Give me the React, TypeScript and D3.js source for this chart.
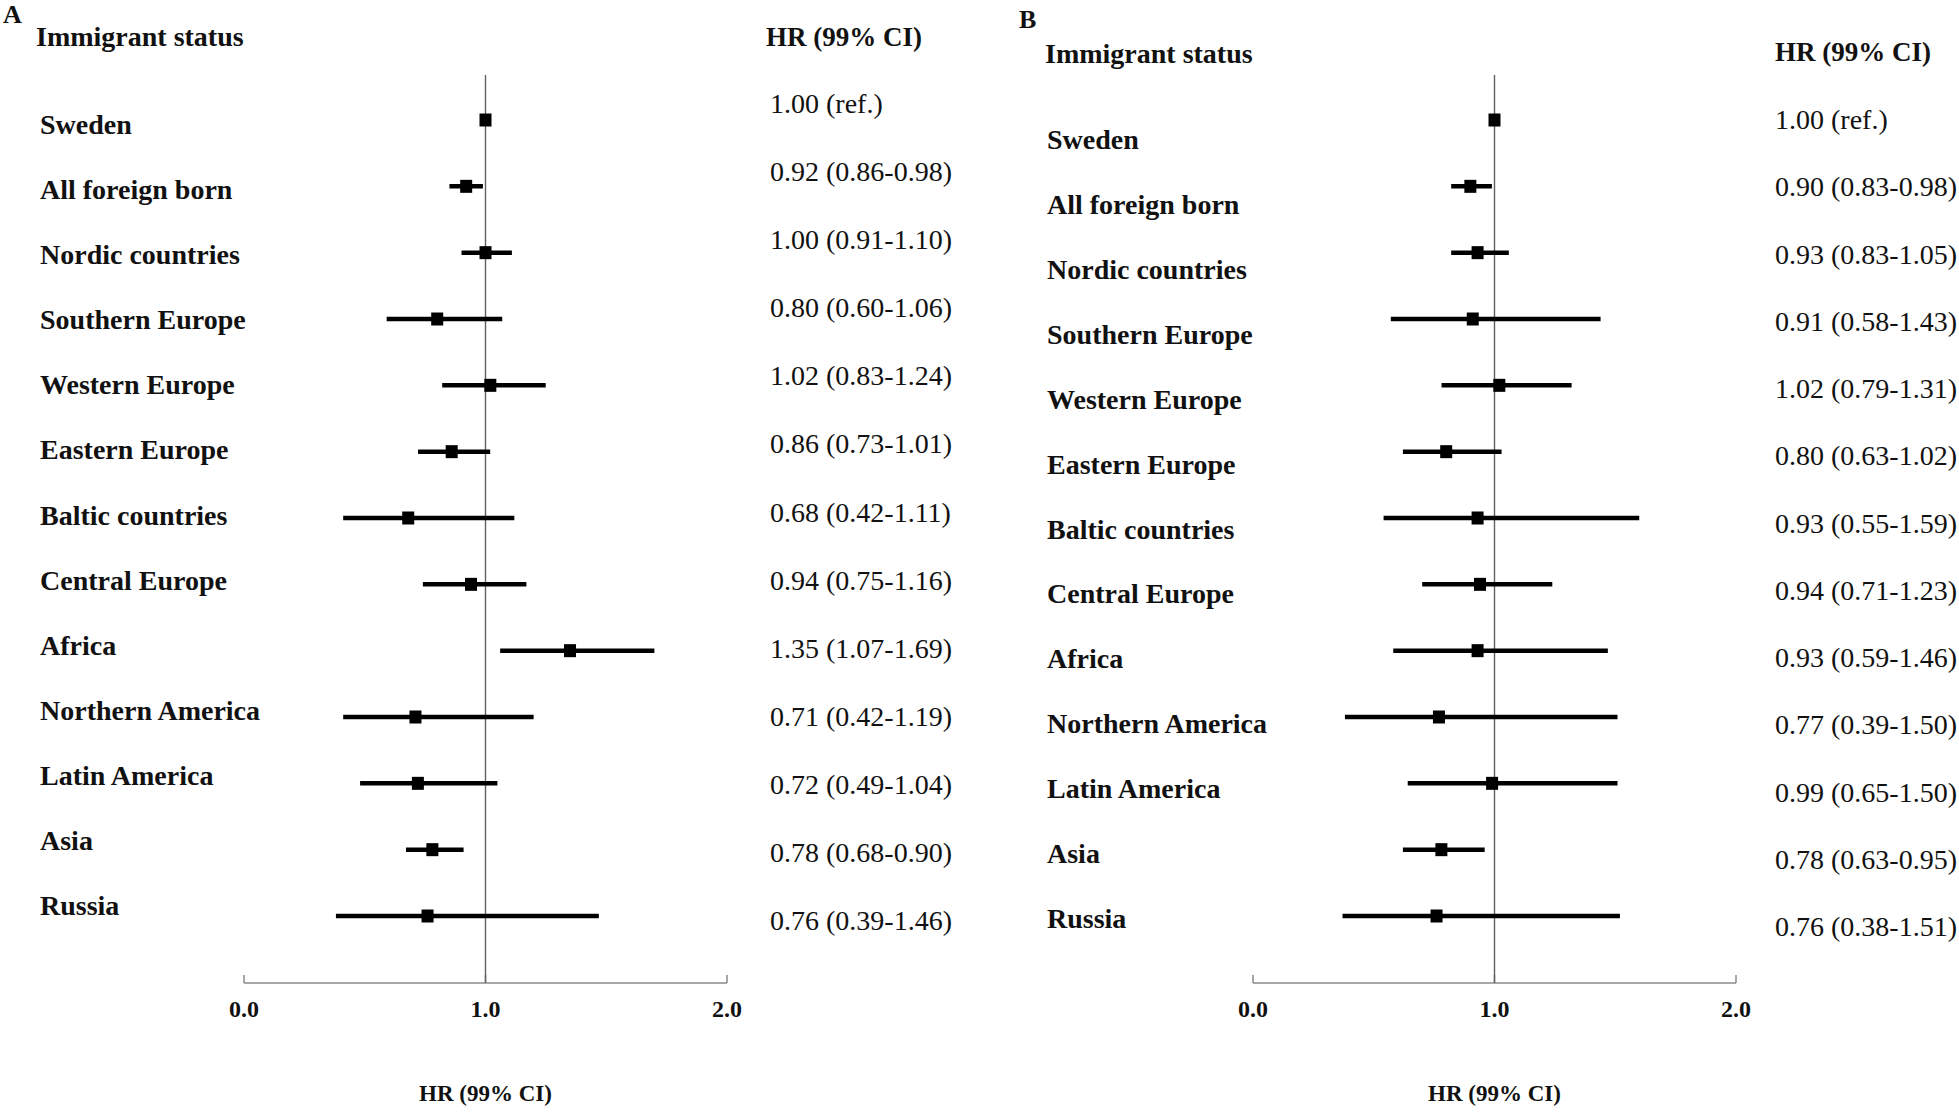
import React from "react";
import * as d3 from "d3";

// ---------- data ----------
const categories = [
  "Sweden",
  "All foreign born",
  "Nordic countries",
  "Southern Europe",
  "Western Europe",
  "Eastern Europe",
  "Baltic countries",
  "Central Europe",
  "Africa",
  "Northern America",
  "Latin America",
  "Asia",
  "Russia",
];

const hrA = [1.0, 0.92, 1.0, 0.8, 1.02, 0.86, 0.68, 0.94, 1.35, 0.71, 0.72, 0.78, 0.76];
const lowA = [null, 0.86, 0.91, 0.6, 0.83, 0.73, 0.42, 0.75, 1.07, 0.42, 0.49, 0.68, 0.39];
const highA = [null, 0.98, 1.1, 1.06, 1.24, 1.01, 1.11, 1.16, 1.69, 1.19, 1.04, 0.9, 1.46];

const hrB = [1.0, 0.9, 0.93, 0.91, 1.02, 0.8, 0.93, 0.94, 0.93, 0.77, 0.99, 0.78, 0.76];
const lowB = [null, 0.83, 0.83, 0.58, 0.79, 0.63, 0.55, 0.71, 0.59, 0.39, 0.65, 0.63, 0.38];
const highB = [null, 0.98, 1.05, 1.43, 1.31, 1.02, 1.59, 1.23, 1.46, 1.5, 1.5, 0.95, 1.51];

const xTicks = [0, 1, 2];
const refValue = 1;
const columnTitle = "Immigrant status";
const valueHeader = "HR (99% CI)";
const axisTitle = "HR (99% CI)";

// ---------- layout ----------
const W = 1959;
const H = 1112;
const FONT = "'Liberation Serif', 'Times New Roman', Times, serif";

type PanelLayout = {
  letter: string;
  letterPos: [number, number];
  titlePos: [number, number];
  headerPos: [number, number];
  xRange: [number, number];
  labelX: number;
  labelRange: [number, number];
  valueX: number;
  valueRange: [number, number];
};

const panels: { hr: number[]; low: (number | null)[]; high: (number | null)[]; layout: PanelLayout }[] = [
  {
    hr: hrA,
    low: lowA,
    high: highA,
    layout: {
      letter: "A",
      letterPos: [3, 23],
      titlePos: [36, 46],
      headerPos: [766, 46],
      xRange: [244, 727],
      labelX: 40,
      labelRange: [134, 915],
      valueX: 770,
      valueRange: [113, 930],
    },
  },
  {
    hr: hrB,
    low: lowB,
    high: highB,
    layout: {
      letter: "B",
      letterPos: [1019, 28],
      titlePos: [1045, 63],
      headerPos: [1775, 61],
      xRange: [1253, 1736],
      labelX: 1047,
      labelRange: [149, 928],
      valueX: 1775,
      valueRange: [129, 936],
    },
  },
];

const markerRange: [number, number] = [120, 916];
const refTop = 75;
const axisY = 983;

function fmt(hr: number, lo: number | null, hi: number | null) {
  if (lo == null || hi == null) return `${hr.toFixed(2)} (ref.)`;
  return `${hr.toFixed(2)} (${lo.toFixed(2)}-${hi.toFixed(2)})`;
}

function Panel({ hr, low, high, layout }: (typeof panels)[number]) {
  const x = d3.scaleLinear().domain([0, 2]).range(layout.xRange);
  const yMark = d3.scalePoint<string>().domain(categories).range(markerRange);
  const yLabel = d3.scalePoint<string>().domain(categories).range(layout.labelRange);
  const yValue = d3.scalePoint<string>().domain(categories).range(layout.valueRange);
  const boxW = 12;
  const boxH = 13;

  return (
    <g>
      <text x={layout.letterPos[0]} y={layout.letterPos[1]} fontSize={26} fontWeight="bold" fontFamily={FONT} fill="#111">
        {layout.letter}
      </text>
      <text x={layout.titlePos[0]} y={layout.titlePos[1]} fontSize={28} fontWeight="bold" fontFamily={FONT} fill="#111">
        {columnTitle}
      </text>
      <text x={layout.headerPos[0]} y={layout.headerPos[1]} fontSize={27} fontWeight="bold" fontFamily={FONT} fill="#111">
        {valueHeader}
      </text>

      {/* axis */}
      <line x1={x(0)} x2={x(2)} y1={axisY} y2={axisY} stroke="#8a8a8a" strokeWidth={1.5} />
      {xTicks.map((t) => (
        <g key={t}>
          <line x1={x(t)} x2={x(t)} y1={axisY} y2={axisY - 8} stroke="#8a8a8a" strokeWidth={1.5} />
          <text x={x(t)} y={1017} textAnchor="middle" fontSize={24} fontWeight="bold" fontFamily={FONT} fill="#111">
            {d3.format(".1f")(t)}
          </text>
        </g>
      ))}
      <text x={x(1)} y={1101} textAnchor="middle" fontSize={23} fontWeight="bold" fontFamily={FONT} fill="#111">
        {axisTitle}
      </text>

      {/* reference line */}
      <line x1={x(refValue)} x2={x(refValue)} y1={refTop} y2={axisY} stroke="#606060" strokeWidth={1.4} />

      {categories.map((c, i) => {
        const y = yMark(c)!;
        const lo = low[i];
        const hi = high[i];
        return (
          <g key={c}>
            {lo != null && hi != null && (
              <line x1={x(lo)} x2={x(hi)} y1={y} y2={y} stroke="#000" strokeWidth={4.5} strokeLinecap="square" />
            )}
            <rect x={x(hr[i]) - boxW / 2} y={y - boxH / 2} width={boxW} height={boxH} fill="#000" />
            <text x={layout.labelX} y={yLabel(c)} fontSize={28} fontWeight="bold" fontFamily={FONT} fill="#111">
              {c}
            </text>
            <text x={layout.valueX} y={yValue(c)} fontSize={28} fontFamily={FONT} fill="#111">
              {fmt(hr[i], lo, hi)}
            </text>
          </g>
        );
      })}
    </g>
  );
}

export default function App() {
  return (
    <svg
      width={W}
      height={H}
      viewBox={`0 0 ${W} ${H}`}
      style={{ position: "absolute", left: 0, top: 0, display: "block", background: "#fff" }}
    >
      <rect x={0} y={0} width={W} height={H} fill="#fff" />
      {panels.map((p) => (
        <Panel key={p.layout.letter} {...p} />
      ))}
    </svg>
  );
}
